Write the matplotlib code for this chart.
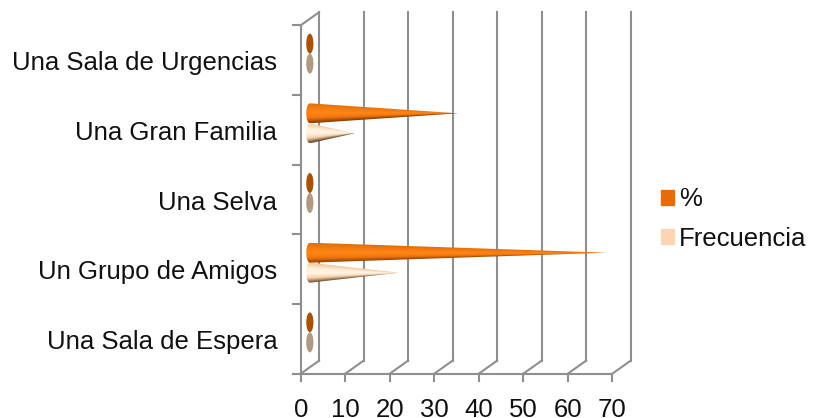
import numpy as np
import matplotlib
matplotlib.use("Agg")
import matplotlib.pyplot as plt
from matplotlib.colors import LinearSegmentedColormap
from matplotlib.patches import Ellipse, Patch, PathPatch
from matplotlib.path import Path

plt.rcParams['font.family'] = ['Liberation Sans', 'DejaVu Sans']

categorias = ["Una Sala de Espera", "Un Grupo de Amigos", "Una Selva", "Una Gran Familia", "Una Sala de Urgencias"]
porcentaje = [0, 66.7, 0, 33.3, 0]
frecuencia = [0, 20, 0, 10, 0]
xticks = [0, 10, 20, 30, 40, 50, 60, 70]

GRIS = "#8f8f8f"
W, H = 814, 418

# front plane of the 3D box, in pixels
x0, x1 = 300.7, 612.3
y0, y1 = 373.7, 25.3
fig = plt.figure(figsize=(W / 100, H / 100), dpi=100)
ax = fig.add_axes([x0 / W, 1 - y0 / H, (x1 - x0) / W, (y0 - y1) / H])
ax.set_axis_off()

px_x = 70 / (x1 - x0)
px_y = 5 / (y0 - y1)
dx, dy = 18.3 * px_x, 13 * px_y   # box depth


def linea(xs, ys):
    ax.plot(xs, ys, color=GRIS, lw=1.5, solid_capstyle="projecting", clip_on=False, zorder=1)


# back wall and floor
for v in xticks:
    linea([v + dx, v + dx], [dy, 5 + dy])
    linea([v, v + dx], [0, dy])
    linea([v, v], [0, -7.5 * px_y])
linea([0, dx], [5, 5 + dy])
linea([0, 0], [0, 5])
linea([0, 70], [0, 0])
for i in range(6):
    linea([-7.5 * px_x, 0], [i, i])

cmap_pct = LinearSegmentedColormap.from_list("pct", ["#e0700c", "#f87c10", "#ff8616", "#f07410", "#8a4000"])
cmap_frec = LinearSegmentedColormap.from_list("frec", ["#f4c89c", "#ffeeda", "#fff5e8", "#f6d2aa", "#65492e"])

semi_x = 3.6 * px_x
semi_y = 10 * px_y
sep = 10 * px_y


def cono(valor, yc, cmap, color_cero):
    xc = dx / 2
    if valor == 0:
        ax.add_patch(Ellipse((xc, yc), 2 * semi_x, 2 * semi_y, color=color_cero, lw=0, zorder=3))
        return
    t = np.linspace(np.pi / 2, 3 * np.pi / 2, 30)
    xs = np.r_[xc + semi_x * np.cos(t), xc + valor]
    ys = np.r_[yc + semi_y * np.sin(t), yc]
    path = Path(np.c_[xs, ys], closed=False)
    # shading follows the cone: position across the local radius, not across the image
    u = np.linspace(-semi_x, valor, 400)
    w = np.linspace(-1, 1, 80)
    U, V = np.meshgrid(u, w)
    radio = np.clip(1 - U / valor, 0.004, 1)
    sombra = np.clip((1 - V / radio) / 2, 0, 1)
    im = ax.imshow(sombra, cmap=cmap, vmin=0, vmax=1, aspect="auto", origin="lower",
                   extent=(xc - semi_x, xc + valor, yc - semi_y, yc + semi_y), zorder=3)
    im.set_clip_path(PathPatch(path, transform=ax.transData))


for i, (pct, frec) in enumerate(zip(porcentaje, frecuencia)):
    yc = i + 0.5 + dy / 2
    cono(pct, yc + sep, cmap_pct, "#a85208")
    cono(frec, yc - sep, cmap_frec, "#b09a84")

ax.set_xlim(0, 70)
ax.set_ylim(0, 5)

for i, nombre in enumerate(categorias):
    ax.text(-23.5 * px_x, i + 0.5 - 3 * px_y, nombre, ha="right", va="center", fontsize=18.5, color="#111111", clip_on=False)
for v in xticks:
    ax.text(v, -43.3 * px_y, str(v), ha="center", va="baseline", fontsize=18.5, color="#111111", clip_on=False)

handles = [Patch(color="#e46c0a", label="%"), Patch(color="#fcd5b5", label="Frecuencia")]
fig.legend(handles=handles, loc="center left", bbox_to_anchor=(637.5 / W, 1 - 219 / H), frameon=False,
           fontsize=18.5, handlelength=0.52, handleheight=0.52, handletextpad=0.2, labelspacing=0.6,
           labelcolor="#111111")

fig.savefig("out.png", dpi=100)
